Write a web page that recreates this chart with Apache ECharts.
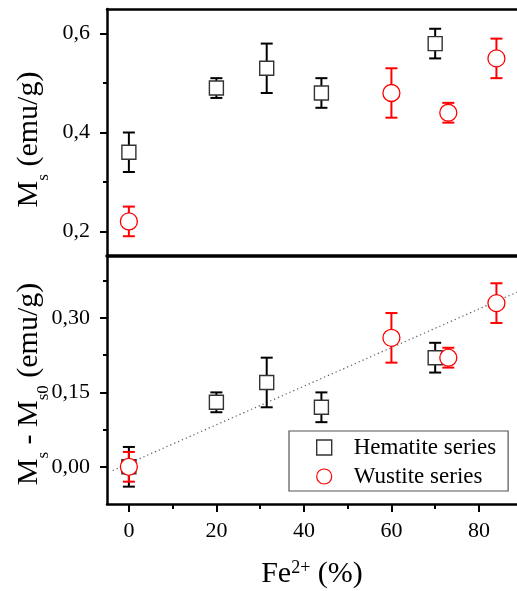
<!DOCTYPE html>
<html>
<head>
<meta charset="utf-8">
<script src="https://cdn.jsdelivr.net/npm/echarts@6/dist/echarts.min.js"></script>
<style>
html,body{margin:0;padding:0;background:#fff;}
#c{width:517px;height:591px;}
</style>
</head>
<body>
<div id="c"></div>
<script>
// ---- data ----
const hemX      = [0, 20, 31.5, 44, 70];
const hemMs     = [0.36, 0.49, 0.53, 0.48, 0.58];
const hemMsErr  = [0.04, 0.02, 0.05, 0.03, 0.03];
const hemDiff   = [0, 0.13, 0.17, 0.12, 0.22];
const hemDiffErr= [0.04, 0.02, 0.05, 0.03, 0.03];

const wusX      = [0, 60, 73, 84];
const wusMs     = [0.22, 0.48, 0.44, 0.55];
const wusMsErr  = [0.03, 0.05, 0.02, 0.04];
const wusDiff   = [0, 0.26, 0.22, 0.33];
const wusDiffErr= [0.03, 0.05, 0.02, 0.04];

const fitX = [-3.7, 88.7];
const fitY = [-0.0075, 0.352];

const xTicks = [0, 20, 40, 60, 80];
const xMinorTicks = [10, 30, 50, 70];
const topTicks = [0.2, 0.4, 0.6];
const topMinorTicks = [0.3, 0.5];
const botTicks = [0, 0.15, 0.30];
const botMinorTicks = [0.075, 0.225, 0.375];

const seriesNames = ['Hematite series', 'Wustite series'];

// ---- helpers ----
const FONT = 'Liberation Serif';
const zip = (xs, ys) => xs.map((x, i) => [x, ys[i]]);
const zip3 = (xs, ys, es) => xs.map((x, i) => [x, ys[i], es[i]]);

function errBar(color, xi, yi, data) {
  return {
    type: 'custom', xAxisIndex: xi, yAxisIndex: yi, data: data, z: 2,
    renderItem: function (params, api) {
      const x = api.value(0), y = api.value(1), e = api.value(2);
      const t = api.coord([x, y + e]), b = api.coord([x, y - e]);
      const hw = 6;
      const st = { stroke: color, lineWidth: 2 };
      return { type: 'group', children: [
        { type: 'line', shape: { x1: t[0], y1: t[1], x2: b[0], y2: b[1] }, style: st },
        { type: 'line', shape: { x1: t[0] - hw, y1: t[1], x2: t[0] + hw, y2: t[1] }, style: st },
        { type: 'line', shape: { x1: b[0] - hw, y1: b[1], x2: b[0] + hw, y2: b[1] }, style: st }
      ]};
    }
  };
}
function hemScatter(xi, yi, data) {
  return { type: 'scatter', name: seriesNames[0], xAxisIndex: xi, yAxisIndex: yi, data: data,
    symbol: 'rect', symbolSize: 14, z: 3,
    itemStyle: { color: '#fff', borderColor: '#333', borderWidth: 1.4, opacity: 1 } };
}
function wusScatter(xi, yi, data) {
  return { type: 'scatter', name: seriesNames[1], xAxisIndex: xi, yAxisIndex: yi, data: data,
    symbol: 'circle', symbolSize: 17, z: 4,
    itemStyle: { color: '#fff', borderColor: '#ff0000', borderWidth: 1.3, opacity: 1 } };
}
const comma = (d) => (v) => v.toFixed(d).replace('.', ',');

const titleRich = {
  m: { fontFamily: FONT, fontSize: 30, lineHeight: 30, color: '#000' },
  sub: { fontFamily: FONT, fontSize: 17, height: 1, verticalAlign: 'bottom', color: '#000' },
  sup: { fontFamily: FONT, fontSize: 18, lineHeight: 24, verticalAlign: 'top', color: '#000' }
};

const AX = { color: '#000', width: 2.5 };
const HIDDEN_LINE = { show: false, onZero: false };

const option = {
  animation: false,
  backgroundColor: '#fff',
  grid: [
    { left: 107, top: 9, width: 410, height: 247, containLabel: false, outerBoundsMode: 'none' },
    { left: 107, top: 256, width: 410, height: 248, containLabel: false, outerBoundsMode: 'none' }
  ],
  xAxis: [
    { gridIndex: 0, type: 'value', min: -5, max: 88.7, position: 'bottom',
      axisLine: { show: true, onZero: false, lineStyle: { color: '#000', width: 3.5 } },
      axisTick: { show: false }, axisLabel: { show: false }, splitLine: { show: false } },
    { gridIndex: 0, type: 'value', min: -5, max: 88.7, position: 'top',
      axisLine: { show: true, onZero: false, lineStyle: AX },
      axisTick: { show: false }, axisLabel: { show: false }, splitLine: { show: false } },
    { gridIndex: 1, type: 'value', min: -5, max: 88.7, position: 'bottom',
      axisLine: { show: true, onZero: false, lineStyle: AX },
      axisTick: { show: true, inside: false, length: 8, customValues: xTicks, lineStyle: { color: '#000', width: 2 } },
      axisLabel: { show: true, customValues: xTicks, margin: 16, fontFamily: FONT, fontSize: 22, color: '#000' },
      splitLine: { show: false },
      name: '{m|Fe}{sup|2+}{m| (%)}', nameLocation: 'middle', nameGap: 55, nameMoveOverlap: false,
      nameTextStyle: { rich: titleRich } },
    { gridIndex: 1, type: 'value', min: -5, max: 88.7, position: 'bottom',
      axisLine: HIDDEN_LINE,
      axisTick: { show: true, inside: false, length: 5, customValues: xMinorTicks, lineStyle: { color: '#000', width: 2 } },
      axisLabel: { show: false }, splitLine: { show: false } }
  ],
  yAxis: [
    { gridIndex: 0, type: 'value', min: 0.15, max: 0.65, position: 'left',
      axisLine: { show: true, onZero: false, lineStyle: AX },
      axisTick: { show: true, inside: false, length: 7, customValues: topTicks, lineStyle: { color: '#000', width: 2 } },
      axisLabel: { show: true, customValues: topTicks, margin: 17, formatter: comma(1), fontFamily: FONT, fontSize: 22, color: '#000' },
      splitLine: { show: false },
      name: '{m|M}{sub|s}{m| (emu/g)}', nameLocation: 'middle', nameRotate: 90, nameGap: 63, nameMoveOverlap: false,
      nameTextStyle: { rich: titleRich, padding: [0, 14, 0, 0] } },
    { gridIndex: 0, type: 'value', min: 0.15, max: 0.65, position: 'left',
      axisLine: HIDDEN_LINE,
      axisTick: { show: true, inside: false, length: 4, customValues: topMinorTicks, lineStyle: { color: '#000', width: 2 } },
      axisLabel: { show: false }, splitLine: { show: false } },
    { gridIndex: 1, type: 'value', min: -0.075, max: 0.425, position: 'left',
      axisLine: { show: true, onZero: false, lineStyle: AX },
      axisTick: { show: true, inside: false, length: 7, customValues: botTicks, lineStyle: { color: '#000', width: 2 } },
      axisLabel: { show: true, customValues: botTicks, margin: 17, formatter: comma(2), fontFamily: FONT, fontSize: 22, color: '#000' },
      splitLine: { show: false },
      name: '{m|M}{sub|s}{m| - M}{sub|s0}{m| (emu/g)}', nameLocation: 'middle', nameRotate: 90, nameGap: 63, nameMoveOverlap: false,
      nameTextStyle: { rich: titleRich, padding: [0, 8, 0, 0] } },
    { gridIndex: 1, type: 'value', min: -0.075, max: 0.425, position: 'left',
      axisLine: HIDDEN_LINE,
      axisTick: { show: true, inside: false, length: 4, customValues: botMinorTicks, lineStyle: { color: '#000', width: 2 } },
      axisLabel: { show: false }, splitLine: { show: false } }
  ],
  legend: {
    orient: 'vertical', left: 289, top: 431,
    padding: [5, 12, 3, 27], itemGap: 6, itemWidth: 15, itemHeight: 15,
    backgroundColor: '#fff', borderColor: '#555', borderWidth: 1.2, borderRadius: 0,
    textStyle: { fontFamily: FONT, fontSize: 23, color: '#000', lineHeight: 23, padding: [0, 0, 0, 17] },
    data: [
      { name: seriesNames[0], icon: 'rect', itemStyle: { color: '#fff', borderColor: '#333', borderWidth: 1.4 } },
      { name: seriesNames[1], icon: 'circle', itemStyle: { color: '#fff', borderColor: '#ff0000', borderWidth: 1.2 } }
    ],
    selectedMode: false, z: 10
  },
  series: [
    { type: 'line', xAxisIndex: 2, yAxisIndex: 2, data: zip(fitX, fitY), symbol: 'none', z: 1,
      lineStyle: { color: '#555', width: 1.2, type: [1.2, 3] }, silent: true },
    errBar('#000', 0, 0, zip3(hemX, hemMs, hemMsErr)),
    hemScatter(0, 0, zip(hemX, hemMs)),
    errBar('#ff0000', 0, 0, zip3(wusX, wusMs, wusMsErr)),
    wusScatter(0, 0, zip(wusX, wusMs)),
    errBar('#000', 2, 2, zip3(hemX, hemDiff, hemDiffErr)),
    hemScatter(2, 2, zip(hemX, hemDiff)),
    errBar('#ff0000', 2, 2, zip3(wusX, wusDiff, wusDiffErr)),
    wusScatter(2, 2, zip(wusX, wusDiff))
  ]
};
const chart = echarts.init(document.getElementById('c'), null, { renderer: 'canvas' });
chart.setOption(option);
</script>
</body>
</html>
